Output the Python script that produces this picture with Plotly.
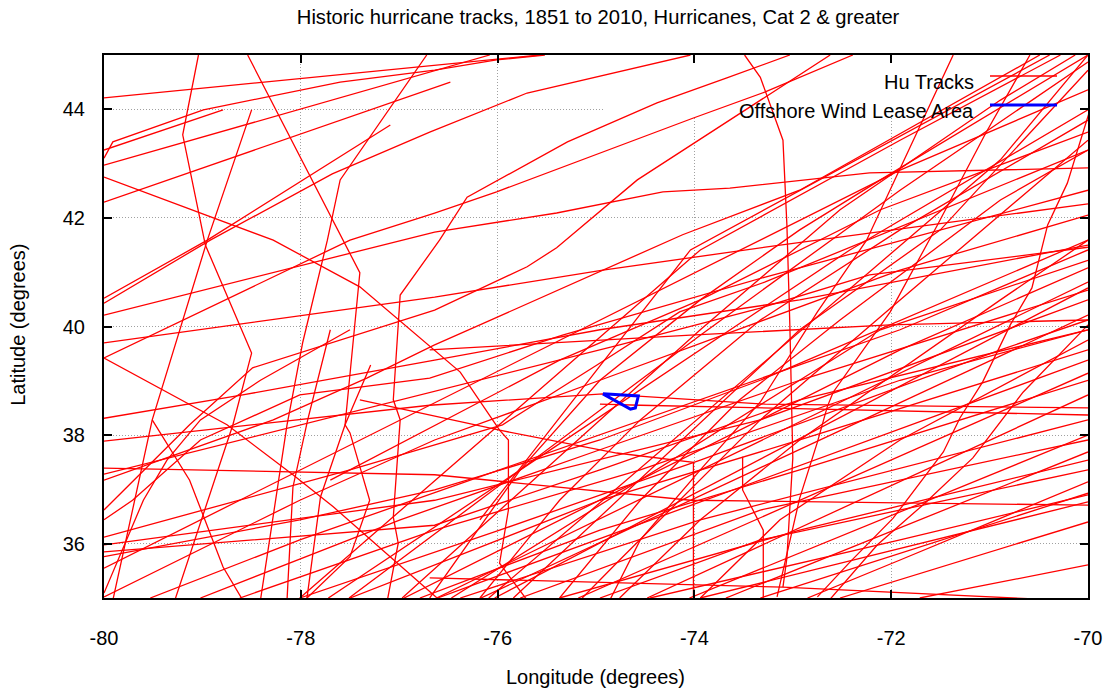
import plotly.graph_objects as go

# ---- data (lon, lat per hurricane track segment) ----
TRACK_LON = [
    [-80.00, -75.57],
    [-80.00, -79.91, -78.99, -77.60, -76.64, -76.01, -75.52],
    [-80.00, -78.79],
    [-80.00, -76.64, -76.08],
    [-80.00, -76.48],
    [-80.00, -78.28, -77.40, -76.64, -76.38, -75.98, -75.89, -75.89, -75.98, -75.70],
    [-79.04, -79.20, -78.97, -78.50, -78.69, -79.28],
    [-78.54, -77.57, -77.40, -77.55, -77.50, -77.30, -77.50, -77.96],
    [-78.50, -78.95, -79.51, -79.91],
    [-80.00, -78.95, -77.09],
    [-80.00, -78.92, -77.68, -76.69, -75.70, -74.04],
    [-76.72, -77.60, -77.73, -77.98, -78.14, -78.41],
    [-80.00, -77.50, -76.64, -76.01, -74.01, -73.28, -72.39],
    [-80.00, -76.64, -75.40, -74.32, -73.64, -72.22, -70.00],
    [-77.12, -77.01, -77.06, -76.99, -77.06, -76.99, -76.59, -76.31, -75.29, -74.38, -73.67, -73.03],
    [-80.00, -79.13, -78.49, -76.64, -75.70, -75.40, -74.58, -73.28, -72.62],
    [-73.49, -73.33, -73.10, -73.06, -73.03, -73.00, -73.06, -73.10],
    [-71.37, -71.74, -72.25, -72.75, -73.33, -73.94, -74.55, -74.86],
    [-80.00, -78.75, -78.08, -77.67, -76.59],
    [-79.51, -79.13, -78.79, -78.59],
    [-80.00, -76.64, -74.04, -70.00],
    [-80.00, -78.28, -77.33, -76.64, -76.18, -74.93, -74.12, -72.93, -71.30, -70.49],
    [-80.00, -79.71, -79.02, -78.01, -76.69, -75.34, -73.28, -70.00],
    [-80.00, -77.50, -75.95, -74.99, -74.15, -73.28, -70.00],
    [-80.00, -76.69, -74.93, -73.28, -70.00],
    [-69.98, -70.21, -70.41, -70.57, -70.79, -71.07, -71.30, -71.47, -71.98, -72.42, -72.75],
    [-70.00, -70.66, -71.17, -71.68, -72.14, -72.62],
    [-80.00, -76.64, -74.93, -73.28, -70.00],
    [-76.97, -74.96, -73.94, -72.52, -70.89, -70.13],
    [-77.51, -75.77, -73.94, -71.91, -70.00],
    [-77.72, -74.55, -72.42, -70.00],
    [-80.00, -76.59, -74.76, -73.33, -72.22, -70.00],
    [-77.70, -75.37, -73.94, -72.11, -70.00],
    [-75.14, -74.76, -73.33, -71.91, -70.00],
    [-76.18, -74.04, -70.39],
    [-75.84, -74.45, -72.93, -71.50, -70.00],
    [-76.47, -73.74, -72.11, -70.00],
    [-76.95, -73.94, -71.91, -70.00],
    [-76.62, -74.15, -70.00],
    [-76.03, -73.54, -70.00],
    [-76.17, -72.72, -70.00],
    [-76.69, -74.04, -72.01, -70.00],
    [-76.61, -73.33, -70.00],
    [-75.18, -72.93, -70.00],
    [-74.48, -72.32, -70.00],
    [-74.96, -74.55, -70.00],
    [-74.05, -72.11, -70.00],
    [-73.68, -72.72, -70.00],
    [-72.85, -71.91, -70.00],
    [-73.33, -70.00],
    [-73.94, -70.00],
    [-72.52, -70.00],
    [-71.71, -70.00],
    [-76.69, -73.10, -70.28],
    [-80.00, -76.64, -73.33, -70.00],
    [-80.00, -76.64, -74.96, -72.93, -70.00],
    [-80.00, -78.01, -76.64, -74.96, -73.33, -70.00],
    [-80.00, -78.01, -76.64, -74.96, -71.91, -70.00],
    [-79.53, -78.01, -75.98, -73.94, -71.91, -70.00],
    [-79.02, -76.99, -74.96, -72.93, -70.00],
    [-78.62, -76.64, -74.55, -71.91, -70.00],
    [-78.01, -75.98, -73.94, -70.89, -70.00],
    [-77.50, -74.96, -72.93, -70.00],
    [-76.79, -74.96, -72.93, -70.00],
    [-76.38, -73.94, -70.00],
    [-75.77, -73.33, -70.00],
    [-75.37, -72.93, -70.00],
    [-74.96, -73.33, -70.00],
    [-74.45, -71.91, -70.00],
    [-76.69, -75.77, -74.96, -73.94, -72.93, -72.11, -70.00],
    [-76.18, -75.37, -74.55, -73.33, -71.91, -70.00],
    [-75.37, -74.55, -73.54, -72.52, -70.89, -70.00],
    [-74.76, -73.94, -72.93, -70.89, -70.00],
    [-73.94, -73.13, -71.91, -70.00],
    [-73.51, -73.51, -73.30, -73.30],
    [-77.40, -75.98, -74.79, -74.01, -74.01],
    [-77.70, -77.93, -78.08, -78.14],
    [-77.29, -77.55, -77.80, -77.94],
    [-80.00, -79.60, -79.36, -79.02, -78.41, -77.50],
    [-80.00, -78.59, -76.64, -74.96, -72.93, -70.00],
    [-78.01, -73.94, -71.91, -70.28],
    [-80.00, -74.55, -71.91, -70.00],
    [-76.09, -72.32, -70.89, -70.00],
    [-70.59, -71.04, -71.53, -72.01, -72.59, -72.65, -72.75, -72.93, -73.16],
]

TRACK_LAT = [
    [44.21, 45.00],
    [43.10, 43.40, 43.99, 44.50, 44.72, 44.91, 45.00],
    [43.25, 43.99],
    [42.97, 44.72, 45.00],
    [42.29, 44.50],
    [42.75, 41.59, 40.73, 39.57, 39.16, 38.09, 37.91, 36.62, 35.64, 34.96],
    [45.00, 43.53, 41.50, 39.51, 38.19, 34.96],
    [45.00, 41.59, 40.99, 38.19, 38.04, 36.80, 35.76, 34.96],
    [43.99, 41.59, 38.28, 34.96],
    [40.52, 41.59, 43.71],
    [40.43, 41.59, 42.81, 43.58, 44.30, 45.00],
    [45.00, 42.70, 41.59, 39.71, 38.19, 34.96],
    [39.42, 41.59, 42.09, 42.48, 43.84, 44.32, 45.00],
    [40.21, 41.74, 42.09, 42.48, 42.55, 42.83, 42.92],
    [34.96, 36.01, 36.49, 38.28, 38.65, 40.58, 41.59, 42.38, 43.40, 44.12, 44.58, 45.00],
    [36.62, 38.19, 39.24, 40.30, 41.10, 41.45, 42.70, 44.23, 45.00],
    [45.00, 44.59, 43.43, 41.87, 40.03, 37.58, 35.74, 35.20],
    [45.00, 43.56, 41.59, 40.27, 38.61, 37.36, 36.07, 34.96],
    [39.42, 38.19, 37.27, 36.68, 34.96],
    [38.28, 37.17, 35.57, 34.96],
    [37.39, 37.27, 36.80, 36.71],
    [37.17, 38.28, 39.05, 39.66, 40.03, 41.04, 41.69, 42.51, 44.17, 45.00],
    [36.44, 36.80, 37.91, 38.74, 39.05, 39.84, 40.91, 42.51],
    [36.12, 37.36, 38.19, 39.29, 40.27, 40.82, 43.25],
    [37.89, 38.55, 38.76, 38.57, 38.50],
    [43.99, 42.64, 41.87, 40.71, 40.03, 38.98, 38.32, 37.69, 36.47, 35.66, 35.02],
    [40.03, 38.79, 37.58, 36.71, 35.98, 34.98],
    [39.70, 40.54, 41.04, 41.46, 42.26],
    [35.00, 38.28, 39.94, 42.15, 44.17, 45.00],
    [35.00, 37.36, 39.84, 42.51, 44.87],
    [35.00, 38.83, 41.41, 43.99],
    [37.28, 38.83, 39.66, 40.34, 40.95, 41.46],
    [37.17, 39.38, 40.49, 42.15, 43.58],
    [35.00, 35.70, 38.28, 40.49, 43.43],
    [36.44, 41.41, 45.00],
    [35.00, 37.36, 39.94, 41.78, 44.72],
    [35.00, 38.09, 39.94, 41.22],
    [35.00, 37.73, 39.57, 41.08],
    [35.00, 37.17, 40.82],
    [35.00, 37.36, 40.71],
    [35.00, 37.91, 40.21],
    [39.57, 39.84, 40.03, 40.12],
    [35.00, 37.17, 39.38],
    [35.00, 36.80, 39.14],
    [35.00, 36.80, 38.74],
    [38.57, 38.55, 38.37],
    [35.00, 36.44, 38.00],
    [35.00, 35.70, 37.69],
    [35.00, 35.70, 37.14],
    [35.00, 36.93],
    [35.00, 36.77],
    [35.00, 36.40],
    [35.00, 35.61],
    [35.37, 35.20, 34.96],
    [35.98, 36.80, 38.28, 40.49],
    [35.85, 36.34, 37.36, 38.65, 39.94],
    [35.76, 36.44, 36.99, 37.91, 39.01, 41.59],
    [35.02, 36.80, 37.91, 39.01, 41.04, 42.05],
    [35.00, 36.07, 37.36, 38.65, 39.94, 41.41],
    [35.00, 36.44, 37.73, 39.01, 40.67],
    [35.00, 36.25, 37.36, 39.01, 39.94],
    [35.00, 36.25, 37.54, 39.57, 40.12],
    [35.00, 36.80, 37.91, 39.57],
    [35.00, 36.25, 37.36, 39.01],
    [35.00, 36.44, 38.28],
    [35.00, 36.62, 37.91],
    [35.00, 36.25, 37.54],
    [35.00, 36.07, 37.36],
    [35.00, 36.07, 36.90],
    [35.00, 37.36, 39.01, 40.49, 41.78, 42.70, 45.00],
    [35.00, 36.80, 38.28, 40.12, 41.78, 43.80],
    [35.00, 36.80, 38.65, 40.12, 42.33, 43.25],
    [35.00, 36.44, 37.91, 40.49, 41.59],
    [35.00, 36.44, 37.91, 39.75],
    [37.60, 36.99, 36.25, 34.96],
    [38.65, 38.09, 37.67, 37.50, 34.96],
    [39.94, 38.28, 37.04, 34.96],
    [39.29, 38.19, 36.86, 34.96],
    [35.09, 36.80, 37.54, 38.28, 39.01, 39.94],
    [38.31, 38.74, 39.38, 39.94, 40.49, 41.50],
    [35.00, 41.41, 43.43, 45.00],
    [35.55, 40.49, 42.88, 44.36],
    [35.00, 40.86, 43.07, 45.00],
    [45.00, 43.56, 41.87, 40.27, 38.79, 38.52, 37.87, 36.84, 35.02],
]

LEASE_LON = [-74.93, -74.57, -74.60, -74.65, -74.93]
LEASE_LAT = [38.76, 38.72, 38.50, 38.48, 38.76]

X_TICKS = [-80, -78, -76, -74, -72, -70]
Y_TICKS = [36, 38, 40, 42, 44]

TITLE = "Historic hurricane tracks, 1851 to 2010, Hurricanes, Cat 2 &amp; greater"
FONT = "Liberation Sans, Arial, Helvetica, sans-serif"
FS = 20

# ---- build ----
xs, ys = [], []
for lo, la in zip(TRACK_LON, TRACK_LAT):
    xs += lo + [None]
    ys += la + [None]

fig = go.Figure()
fig.add_trace(go.Scatter(x=xs, y=ys, mode="lines", name="Hu Tracks",
                         line=dict(color="#ff0000", width=1.3),
                         hoverinfo="skip", showlegend=False))
fig.add_trace(go.Scatter(x=LEASE_LON, y=LEASE_LAT, mode="lines",
                         name="Offshore Wind Lease Area",
                         line=dict(color="#0000ff", width=3),
                         showlegend=False))

axis_common = dict(
    showline=True, linecolor="black", linewidth=2, mirror="allticks",
    ticks="inside", ticklen=8, tickwidth=1.5, tickcolor="black",
    showgrid=True, gridcolor="#a0a0a0", gridwidth=1, griddash="1px,2px",
    zeroline=False, automargin=False,
    tickfont=dict(size=FS, family=FONT, color="black"),
)

fig.update_xaxes(range=[-80, -70], tickvals=X_TICKS,
                 ticktext=[str(v) for v in X_TICKS],
                 ticklabelstandoff=21, **axis_common)
fig.update_yaxes(range=[35, 45], tickvals=Y_TICKS,
                 ticktext=[str(v) for v in Y_TICKS],
                 ticklabelstandoff=13, **axis_common)

# legend (gnuplot-style key, text right-aligned, sample on the right)
fig.add_shape(type="rect", xref="x", yref="y", x0=-74.91, x1=-70.0,
              y0=43.86, y1=45.0, fillcolor="white", line=dict(width=0),
              layer="between")
fig.add_shape(type="line", xref="paper", yref="paper", x0=0.9004, x1=0.9685,
              y0=0.9613, y1=0.9613, line=dict(color="#ff0000", width=1.3),
              layer="above")
fig.add_shape(type="line", xref="paper", yref="paper", x0=0.9004, x1=0.9685,
              y0=0.9079, y1=0.9079, line=dict(color="#0000ff", width=3),
              layer="above")

annots = [
    dict(text="Hu Tracks", x=0.8865, y=0.9503, xanchor="right", yanchor="middle"),
    dict(text="Offshore Wind Lease Area", x=0.8865, y=0.8969, xanchor="right", yanchor="middle"),
    dict(text="Longitude (degrees)", x=0.4995, y=-0.1455, xanchor="center", yanchor="middle"),
    dict(text="Latitude (degrees)", x=-0.0874, y=0.503, xanchor="center", yanchor="middle", textangle=-90),
]
for a in annots:
    fig.add_annotation(xref="paper", yref="paper", showarrow=False,
                       font=dict(size=FS, family=FONT, color="black"), **a)

fig.update_layout(
    width=1109, height=693,
    margin=dict(l=104, r=21, t=55, b=95, autoexpand=False),
    paper_bgcolor="white", plot_bgcolor="white",
    font=dict(family=FONT, size=FS, color="black"),
    title=dict(text=TITLE, x=0.5393, xanchor="center", y=0.9755, yanchor="middle",
               xref="container", yref="container",
               font=dict(size=20.2, family=FONT, color="black")),
    showlegend=False,
)

fig.write_html("out.html")
